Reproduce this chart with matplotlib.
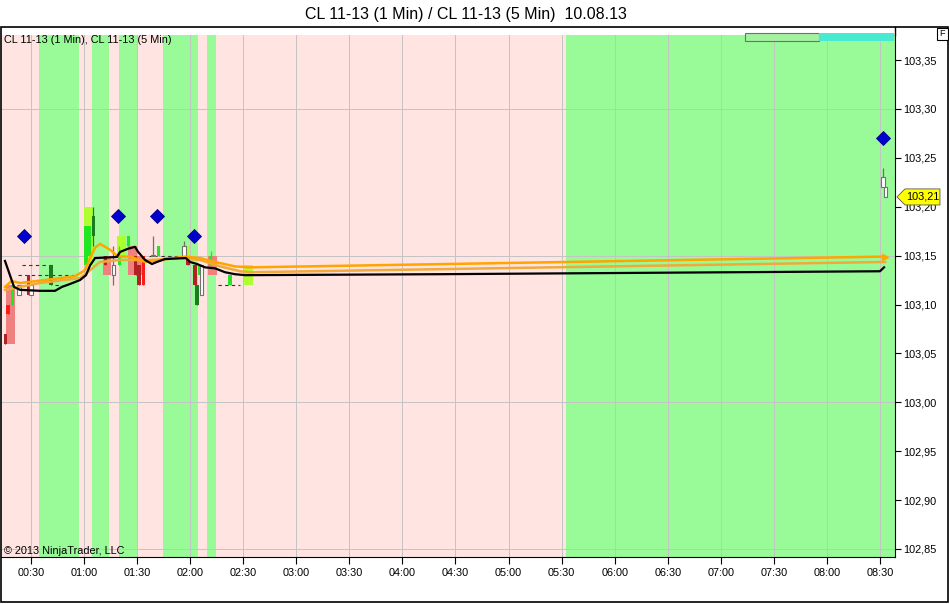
import numpy as np
import matplotlib.pyplot as plt
import matplotlib.transforms as mtransforms
from matplotlib.patches import Rectangle, Polygon
from matplotlib.ticker import FuncFormatter
from matplotlib.lines import Line2D

plt.rcParams['font.family'] = ['Liberation Sans', 'DejaVu Sans']

# time is minutes after midnight
# shaded sessions (green), the rest is pink
green_start = [34.5, 64.5, 79.8, 104.6, 129.5, 332.5]
green_end = [57.1, 74.1, 89.9, 124.4, 134.6, 518.5]

# 5 min bars
t5 = [18.5, 62.5, 73.0, 81.2, 87.4, 91.3, 117.6, 132.6, 153.0]
open5 = [103.12, 103.14, 103.15, 103.15, 103.16, 103.15, 103.15, 103.15, 103.12]
close5 = [103.06, 103.20, 103.13, 103.17, 103.13, 103.13, 103.16, 103.13, 103.14]

# 1 min bars
t1 = [15.5, 17.0, 19.5, 23.2, 28.6, 30.0, 41.3, 61.1, 63.1, 65.2, 72.1, 76.6,
      80.0, 85.1, 89.3, 91.1, 93.6, 99.0, 102.2, 116.5, 118.8, 122.7, 123.9,
      125.6, 126.3, 131.5, 142.5, 511.7, 512.9]
open1 = [103.07, 103.10, 103.10, 103.11, 103.13, 103.11, 103.14, 103.14, 103.15, 103.19, 103.15, 103.13,
         103.14, 103.16, 103.15, 103.14, 103.15, 103.15, 103.15, 103.15, 103.15, 103.14, 103.12,
         103.13, 103.14, 103.14, 103.13, 103.23, 103.22]
close1 = [103.06, 103.09, 103.12, 103.12, 103.11, 103.12, 103.12, 103.18, 103.18, 103.17, 103.14, 103.14,
          103.15, 103.17, 103.13, 103.12, 103.12, 103.15, 103.16, 103.16, 103.14, 103.12, 103.10,
          103.14, 103.11, 103.15, 103.12, 103.22, 103.21]
high1 = [103.07, 103.10, 103.12, 103.12, 103.13, 103.12, 103.14, 103.18, 103.18, 103.20, 103.15, 103.16,
         103.16, 103.17, 103.15, 103.14, 103.15, 103.17, 103.16, 103.165, 103.15, 103.14, 103.12,
         103.14, 103.14, 103.155, 103.13, 103.24, 103.22]
low1 = [103.06, 103.09, 103.10, 103.11, 103.11, 103.11, 103.12, 103.14, 103.15, 103.16, 103.14, 103.12,
        103.14, 103.16, 103.13, 103.12, 103.12, 103.15, 103.15, 103.15, 103.14, 103.12, 103.10,
        103.13, 103.11, 103.14, 103.12, 103.22, 103.21]
kind1 = ['dr', 'r', 'g', 'w', 'dr', 'w', 'dg', 'g', 'g', 'dg', 'dr', 'w',
         'g', 'g', 'dr', 'dr', 'r', 'w', 'g', 'w', 'dr', 'dr', 'dg',
         'g', 'w', 'g', 'g', 'w', 'w']

# dashed price marks: price, from, to
dash_price = [103.14, 103.13, 103.12, 103.15, 103.15, 103.12]
dash_from = [24.9, 22.6, 43.6, 97.0, 103.4, 135.7]
dash_to = [43.6, 54.9, 47.5, 101.0, 116.0, 148.2]

# indicator lines
black_t = [15.3, 18.1, 20.4, 23.8, 35.1, 43.6, 47.5, 52.1, 57.7, 61.1, 63.4, 66.2, 78.6, 80.3,
           84.8, 88.8, 90.5, 94.5, 98.4, 101.2, 105.8, 117.6, 119.9, 123.9, 128.4, 134.0,
           139.7, 145.3, 151.0, 261.3, 510.0, 512.3]
black_v = [103.1445, 103.130, 103.118, 103.115, 103.114, 103.114, 103.118, 103.121, 103.125,
           103.130, 103.140, 103.1475, 103.1486, 103.1537, 103.157, 103.159, 103.154, 103.1455,
           103.1414, 103.1435, 103.1465, 103.1475, 103.1435, 103.1414, 103.138, 103.137, 103.133,
           103.131, 103.130, 103.131, 103.134, 103.138]
orange_a_t = [15.3, 19.0, 23.8, 37.9, 54.9, 60.5, 63.4, 66.2, 69.0, 74.7, 79.2, 86.0, 94.5,
              103.0, 117.1, 125.6, 134.0, 145.3, 153.8, 512.9]
orange_a_v = [103.118, 103.124, 103.122, 103.125, 103.129, 103.135, 103.1475, 103.158, 103.162,
              103.156, 103.149, 103.149, 103.1435, 103.1455, 103.149, 103.1475, 103.1435, 103.139,
              103.138, 103.149]
orange_b_t = [15.3, 21.0, 35.1, 57.7, 63.4, 69.0, 80.3, 97.3, 114.3, 125.6, 136.9, 148.2, 153.8, 512.9]
orange_b_v = [103.115, 103.117, 103.122, 103.127, 103.135, 103.1435, 103.1455, 103.1455,
              103.1475, 103.1455, 103.139, 103.134, 103.133, 103.1435]

# signal diamonds
sig_t = [26.0, 79.2, 101.2, 122.2, 511.7]
sig_v = [103.17, 103.19, 103.19, 103.17, 103.27]

last_price = 103.21

W, H = 949, 604
fig = plt.figure(figsize=(W / 100, H / 100), dpi=100)
fig.patch.set_facecolor('white')
ax = fig.add_axes([1 / W, 47 / H, 894 / W, 522 / H])
ax.set_facecolor('#FFE4E1')
ax.set_xlim(13.04, 518.5)
ax.set_ylim(102.8418, 103.3756)

for s, e in zip(green_start, green_end):
    ax.axvspan(s, e, color='#98FB98', lw=0, zorder=0)

xt = np.arange(30, 511, 30)
yt = np.round(np.arange(102.85, 103.351, 0.05), 2)
for x in xt:
    ax.axvline(x, color='#C4C4C4', lw=0.7, zorder=0.5)
for y in [103.30, 103.15, 103.00, 102.85]:
    ax.axhline(y, color='#C4C4C4', lw=0.7, zorder=0.5)

# 5 min bars
for t, o, c in zip(t5, open5, close5):
    ax.bar(t, abs(c - o), bottom=min(o, c), width=5.0,
           color='#ADFF2F' if c > o else '#F08080', lw=0, zorder=2)

# 1 min bars
cols = {'g': '#22E622', 'dg': '#1E7A1E', 'r': '#FF1A1A', 'dr': '#B22222', 'w': 'white'}
for t, o, c, h, l, k in zip(t1, open1, close1, high1, low1, kind1):
    ec = '#707070' if k == 'w' else cols[k]
    ax.vlines(t, l, h, color=ec, lw=0.9, zorder=3)
    ax.bar(t, max(abs(c - o), 0.0008), bottom=min(o, c), width=1.8,
           color=cols[k], edgecolor=ec, lw=0.8 if k == 'w' else 0, zorder=4)

for p, a, b in zip(dash_price, dash_from, dash_to):
    ax.hlines(p, a, b, color='#333333', lw=0.8, linestyles=(0, (3, 3)), zorder=3)

ax.plot(orange_b_t, orange_b_v, color='#F2A93B', lw=1.8, zorder=5)
ax.plot(orange_a_t, orange_a_v, color='#FFA500', lw=1.8, zorder=5)
ax.plot(black_t, black_v, color='black', lw=1.6, zorder=6)
ax.plot([orange_a_t[-1]], [orange_a_v[-1]], marker='>', color='#FFA500', ms=4, zorder=6)
ax.plot(sig_t, sig_v, 'D', color='#0000CD', mec='#00008B', mew=0.6, ms=7, zorder=7)

# axes styling
ax.spines['top'].set_visible(False)
ax.spines['left'].set_visible(False)
ax.spines['right'].set_color('black')
ax.spines['bottom'].set_color('black')
ax.yaxis.tick_right()
ax.set_xticks(xt)
ax.set_yticks(yt)
ax.xaxis.set_major_formatter(FuncFormatter(lambda v, p: f'{int(v) // 60:02d}:{int(v) % 60:02d}'))
ax.yaxis.set_major_formatter(FuncFormatter(lambda v, p: f'{v:.2f}'.replace('.', ',')))
ax.tick_params(axis='x', direction='out', length=5, width=0.8, pad=3, labelsize=7.8)
ax.tick_params(axis='y', direction='out', length=4, width=0.8, pad=2, labelsize=7.8)

ax.text(0.003, 0.990, 'CL 11-13 (1 Min), CL 11-13 (5 Min)', transform=ax.transAxes,
        ha='left', va='center', fontsize=7.8, zorder=8)
ax.text(0.003, 0.0115, '\u00a9 2013 NinjaTrader, LLC', transform=ax.transAxes,
        ha='left', va='center', fontsize=7.8, zorder=8)

# last price marker
tr = mtransforms.blended_transform_factory(ax.transAxes, ax.transData)
lp = Polygon([(1.0022, last_price), (1.0112, last_price + 0.0082), (1.0503, last_price + 0.0082),
              (1.0503, last_price - 0.0082), (1.0112, last_price - 0.0082)], closed=True,
             transform=tr, facecolor='#FFFF00', edgecolor='#555555', lw=0.6, clip_on=False, zorder=9)
ax.add_patch(lp)
ax.text(1.031, last_price, f'{last_price:.2f}'.replace('.', ','), transform=tr,
        ha='center', va='center', fontsize=7.8, zorder=10, clip_on=False)

# frame, title and top widgets
fig.add_artist(Rectangle((0.5 / W, 2 / H), 947.5 / W, 575 / H, transform=fig.transFigure,
                         fill=False, ec='black', lw=1.2))
fig.add_artist(Line2D([895 / W, 895 / W], [1 - 35 / H, 1 - 27 / H], transform=fig.transFigure,
                      color='black', lw=1))
fig.add_artist(Rectangle((745 / W, 1 - 41 / H), 74 / W, 8 / H, transform=fig.transFigure,
                         facecolor='#A4F2A0', ec='#707070', lw=0.8, zorder=10))
fig.add_artist(Rectangle((819 / W, 1 - 41 / H), 75 / W, 8 / H, transform=fig.transFigure,
                         facecolor='#48EAD2', ec='none', zorder=10))
fig.add_artist(Rectangle((937 / W, 1 - 40 / H), 11 / W, 12 / H, transform=fig.transFigure,
                         facecolor='white', ec='black', lw=0.8, zorder=10))
fig.text(942.5 / W, 1 - 34 / H, 'F', ha='center', va='center', fontsize=6.5, zorder=11)
fig.text(466 / W, 1 - 14 / H, 'CL 11-13 (1 Min) / CL 11-13 (5 Min)  10.08.13',
         ha='center', va='center', fontsize=11.5)

fig.savefig('out.png', dpi=100)
